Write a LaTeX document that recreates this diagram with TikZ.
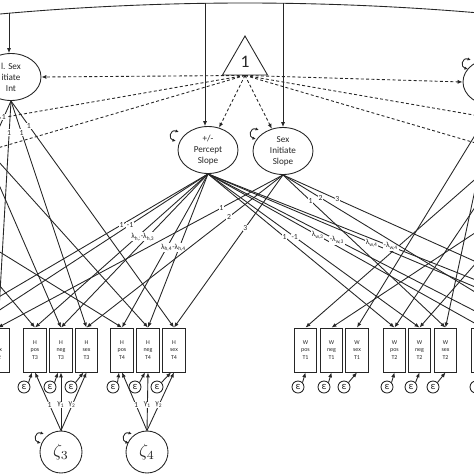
\documentclass[tikz,border=0pt]{standalone}
\usepackage{amsmath,amssymb}
\usepackage{fontspec}
\setmainfont{Carlito}
\usetikzlibrary{arrows.meta,shapes.geometric}

\newcommand{\resloop}[2]{\draw[varloop] ({#1+4},{#2-4}) .. controls ({#1-5},{#2-7}) and ({#1-7},{#2+3}) .. ({#1+1},{#2+5});}

\begin{document}
\begin{tikzpicture}[x=0.02cm,y=-0.02cm,line width=0.5pt,color=black!85,
  arr/.style={-{Latex[length=2.8pt,width=2.3pt]}},
  cov/.style={dash pattern=on 1.7pt off 1.3pt},
  lat/.style={draw,ellipse,inner sep=0pt,minimum width=1.2cm,minimum height=0.94cm,align=center,font=\fontsize{5.2}{6.2}\selectfont},
  obs/.style={draw,rectangle,inner sep=0pt,minimum width=0.45cm,minimum height=0.88cm,align=center,font=\fontsize{3.4}{4.4}\selectfont},
  errc/.style={draw,circle,inner sep=0pt,minimum size=0.24cm,font=\fontsize{6}{6}\selectfont},
  distb/.style={draw,circle,inner sep=0pt,minimum size=0.84cm,font=\fontsize{10}{12}\selectfont},
  lbl/.style={fill=white,inner sep=0.4pt,font=\fontsize{4.4}{5}\selectfont},
  varloop/.style={line width=0.5pt,{Latex[length=2pt,width=1.8pt]}-{Latex[length=2pt,width=1.8pt]}}
]
\useasboundingbox (0,0) rectangle (474,474);
\clip (0,0) rectangle (474,474);

\draw (-20,15.9) parabola bend (245,3) (494,14.3);
\coordinate (tL) at (9,13.2);
\coordinate (tP) at (205,3.3);
\coordinate (tS) at (283,3.3);

\node[regular polygon,regular polygon sides=3,draw,minimum size=1.04cm,inner sep=0pt,font=\fontsize{10}{12}\selectfont] (one) at (245,62) {1};
\node[lat] (HsxI) at (11,77) {l. Sex\\itiate\\Int};
\node[lat] (PerS) at (208,150) {+/-\\Percept\\Slope};
\node[lat] (SexS) at (283,151) {Sex\\Initiate\\Slope};
\node[lat] (WsxI) at (493,82) {};

\node[obs] (Hsx2) at (-2,350) {H\\sex\\T2};
\node[obs] (Hps3) at (35,350) {H\\pos\\T3};
\node[obs] (Hng3) at (61,350) {H\\neg\\T3};
\node[obs] (Hsx3) at (86.5,350) {H\\sex\\T3};
\node[obs] (Hps4) at (122,350) {H\\pos\\T4};
\node[obs] (Hng4) at (148,350) {H\\neg\\T4};
\node[obs] (Hsx4) at (174,350) {H\\sex\\T4};
\node[obs] (Wps1) at (305.5,350) {W\\pos\\T1};
\node[obs] (Wng1) at (331.5,350) {W\\neg\\T1};
\node[obs] (Wsx1) at (357,350) {W\\sex\\T1};
\node[obs] (Wps2) at (394.5,350) {W\\pos\\T2};
\node[obs] (Wng2) at (419.5,350) {W\\neg\\T2};
\node[obs] (Wsx2) at (445.5,350) {W\\sex\\T2};
\node[obs] (Wps3) at (482.5,350) {W\\pos\\T3};

\coordinate (Hsx1) at (-90,328);
\coordinate (Hps2) at (-54,328);
\coordinate (Hng2) at (-28,328);
\coordinate (Wng3) at (508,328);
\coordinate (Wsx3) at (534,328);
\coordinate (Wps4) at (572,328);
\coordinate (Wng4) at (597,328);
\coordinate (Wsx4) at (623,328);
\coordinate (HpI) at (-60,215);
\coordinate (HnI) at (-20,141);
\coordinate (WpI) at (520,140);
\coordinate (WnI) at (540,190);
\coordinate (cL1) at (-40,125);
\coordinate (cL2) at (-40,159);
\coordinate (cR1) at (520,123);
\coordinate (cR2) at (520,156);

\node[errc] (e1) at (24,387) {ε};
\node[errc] (e2) at (50,387) {ε};
\node[errc] (e3) at (71,387) {ε};
\node[errc] (e4) at (113,387) {ε};
\node[errc] (e5) at (135,387) {ε};
\node[errc] (e6) at (157,387) {ε};
\node[errc] (e7) at (298,387) {ε};
\node[errc] (e8) at (324,387) {ε};
\node[errc] (e9) at (344,387) {ε};
\node[errc] (e10) at (387,387) {ε};
\node[errc] (e11) at (411,387) {ε};
\node[errc] (e12) at (433,387) {ε};
\node[errc] (e13) at (476,387) {ε};

\node[distb] (z3) at (61,452) {$\zeta_3$};
\node[distb] (z4) at (147,452) {$\zeta_4$};

\draw[arr] (tL) -- (tL |- HsxI.north);
\draw[arr] (tP) -- (tP |- PerS.north);
\draw[arr] (tS) -- (SexS.north);

\draw[cov,arr] (one.south) -- (HsxI.east);
\draw[cov,arr] (one.south) -- (PerS);
\draw[cov,arr] (one.south) -- (SexS);
\draw[cov,arr] (one.south) -- (WsxI.west);
\draw[cov] (one.south) -- (cL1);
\draw[cov] (one.south) -- (cL2);
\draw[cov] (one.south) -- (cR1);
\draw[cov] (one.south) -- (cR2);

\draw[arr] (HsxI.south) -- node[lbl,pos=0.07]{1} (Hsx1);
\draw[arr] (HsxI.south) -- node[lbl,pos=0.14]{1} (Hsx2.north);
\draw[arr] (HsxI.south) -- node[lbl,pos=0.14]{1} (Hsx3.north);
\draw[arr] (HsxI.south) -- node[lbl,pos=0.11]{1} (Hsx4.north);
\draw[arr] (WsxI.south) -- (Wsx1.north);
\draw[arr] (WsxI.south) -- (Wsx2.north);

\draw[arr] (HpI) -- (Hps3.north);
\draw[arr] (HpI) -- (Hps4.north);
\draw[arr] (HnI) -- (Hng3.north);
\draw[arr] (HnI) -- (Hng4.north);
\draw[arr] (WpI) -- (Wps1.north);
\draw[arr] (WpI) -- (Wps2.north);
\draw[arr] (WnI) -- (Wng1.north);
\draw[arr] (WnI) -- (Wng2.north);

\draw[arr] (PerS.south) -- node[lbl,pos=0.33]{1} (Hps2);
\draw[arr] (PerS.south) -- node[lbl,pos=0.33]{-1} (Hng2);
\draw[arr] (PerS.south) -- node[lbl,pos=0.41]{λ\textsubscript{h,3}} (Hps3.north);
\draw[arr] (PerS.south) -- node[lbl,pos=0.41]{-λ\textsubscript{h,3}} (Hng3.north);
\draw[arr] (PerS.south) -- node[lbl,pos=0.48]{λ\textsubscript{h,4}} (Hps4.north);
\draw[arr] (PerS.south) -- node[lbl,pos=0.48]{-λ\textsubscript{h,4}} (Hng4.north);
\draw[arr] (PerS.south) -- node[lbl,pos=0.41]{1} (Wps2.north);
\draw[arr] (PerS.south) -- node[lbl,pos=0.41]{-1} (Wng2.north);
\draw[arr] (PerS.south) -- node[lbl,pos=0.40]{λ\textsubscript{w,3}} (Wps3.north);
\draw[arr] (PerS.south) -- node[lbl,pos=0.43]{-λ\textsubscript{w,3}} (Wng3);
\draw[arr] (PerS.south) -- node[lbl,pos=0.45]{λ\textsubscript{w,4}} (Wps4);
\draw[arr] (PerS.south) -- node[lbl,pos=0.47]{-λ\textsubscript{w,4}} (Wng4);

\draw[arr] (SexS.south) -- node[lbl,pos=0.216]{1} (Hsx2.north);
\draw[arr] (SexS.south) -- node[lbl,pos=0.275]{2} (Hsx3.north);
\draw[arr] (SexS.south) -- node[lbl,pos=0.346]{3} (Hsx4.north);
\draw[arr] (SexS.south) -- node[lbl,pos=0.17]{1} (Wsx2.north);
\draw[arr] (SexS.south) -- node[lbl,pos=0.15]{2} (Wsx3);
\draw[arr] (SexS.south) -- node[lbl,pos=0.16]{3} (Wsx4);

\draw[arr] (e1.north east) -- ([xshift=-0.06cm]Hps3.south);
\draw[arr] (e2.north east) -- ([xshift=-0.06cm]Hng3.south);
\draw[arr] (e3.north east) -- ([xshift=-0.06cm]Hsx3.south);
\draw[arr] (e4.north east) -- ([xshift=-0.06cm]Hps4.south);
\draw[arr] (e5.north east) -- ([xshift=-0.06cm]Hng4.south);
\draw[arr] (e6.north east) -- ([xshift=-0.06cm]Hsx4.south);
\draw[arr] (e7.north east) -- (Wps1.south);
\draw[arr] (e8.north east) -- (Wng1.south);
\draw[arr] (e9.north east) -- (Wsx1.south);
\draw[arr] (e10.north east) -- (Wps2.south);
\draw[arr] (e11.north east) -- (Wng2.south);
\draw[arr] (e12.north east) -- (Wsx2.south);
\draw[arr] (e13.north east) -- (Wps3.south);

\draw[arr] (z3.north) -- node[lbl,pos=0.44]{1} (Hps3.south);
\draw[arr] (z3.north) -- node[lbl,pos=0.44]{γ\textsubscript{1}} (Hng3.south);
\draw[arr] (z3.north) -- node[lbl,pos=0.44]{γ\textsubscript{2}} (Hsx3.south);
\draw[arr] (z4.north) -- node[lbl,pos=0.44]{1} (Hps4.south);
\draw[arr] (z4.north) -- node[lbl,pos=0.44]{γ\textsubscript{1}} (Hng4.south);
\draw[arr] (z4.north) -- node[lbl,pos=0.44]{γ\textsubscript{2}} (Hsx4.south);

\resloop{175}{136}
\resloop{255}{134}
\resloop{467}{64}
\resloop{40}{438}
\resloop{128}{438}
\end{tikzpicture}
\end{document}
